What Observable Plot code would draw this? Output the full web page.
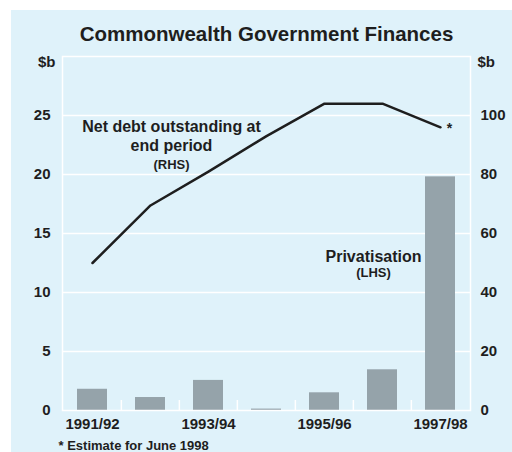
<!DOCTYPE html>
<html><head><meta charset="utf-8">
<script src="https://cdn.jsdelivr.net/npm/d3@7"></script>
<script src="https://cdn.jsdelivr.net/npm/@observablehq/plot@0.6"></script>
<style>
body{margin:0;background:#fff;}
#wrap{padding:10px 0 0 11px;width:501px;height:442px;}
#chart svg{display:block;background:#dff2fa;font-family:"Liberation Sans",Arial,sans-serif;}
</style></head>
<body><div id="wrap"><div id="chart"></div></div>
<script>
const years = ["1991/92","1992/93","1993/94","1994/95","1995/96","1996/97","1997/98"];
const privatisation = [1.8, 1.1, 2.55, 0.12, 1.5, 3.45, 19.8];   // $b, LHS
const netDebt = [50, 69.5, 81, 93, 104, 104, 96];             // $b, RHS
const xTickLabels = ["1991/92","1993/94","1995/96","1997/98"];
const leftTicks = [0,5,10,15,20,25];
const rightFactor = 4; // RHS 0-120 vs LHS 0-30

const bars = years.map((y,i)=>({year:y, value:privatisation[i]}));
const debt = years.map((y,i)=>({year:y, value:netDebt[i]/rightFactor}));

const W=501, H=442, mL=51, mR=42, mT=46, mB=42;
const bw = (W-mL-mR)/years.length;
const ink = "#1e1e1e";
const font = {fontWeight:"bold", fill:ink, lineAnchor:"middle"};

const chart = Plot.plot({
  width:W, height:H, marginLeft:mL, marginRight:mR, marginTop:mT, marginBottom:mB,
  style:{background:"#dff2fa", fontFamily:"Liberation Sans, Arial, sans-serif"},
  x:{type:"band", domain:years, paddingInner:0.48, paddingOuter:0.24, axis:null},
  y:{domain:[0,30], axis:null},
  marks:[
    Plot.ruleY(leftTicks.slice(1), {stroke:"white", strokeWidth:1.5}),
    Plot.barY(bars, {x:"year", y:"value", fill:"#95a3aa"}),
    Plot.ruleX(years.slice(1), {x:d=>d, dx:-bw/2, y1:0, y2:0.85, stroke:"white", strokeWidth:1.5}),
    Plot.frame({stroke:"white", strokeWidth:1.5}),
    Plot.line(debt, {x:"year", y:"value", stroke:ink, strokeWidth:2.5}),
    Plot.axisX({ticks:xTickLabels, tickSize:0, tickPadding:8, fontSize:15, fontWeight:"bold", color:ink, label:null}),
    Plot.axisY({anchor:"left", ticks:leftTicks, tickSize:0, tickPadding:12, fontSize:15, fontWeight:"bold", color:ink, label:null}),
    Plot.axisY({anchor:"right", ticks:leftTicks, tickFormat:d=>d*rightFactor, tickSize:0, tickPadding:10, fontSize:15, fontWeight:"bold", color:ink, label:null}),
    Plot.text(["Commonwealth Government Finances"], {frameAnchor:"top", dy:-22.5, fontSize:20.5, ...font}),
    Plot.text(["$b"], {frameAnchor:"top-left", dx:-7, dy:6, textAnchor:"end", fontSize:15, ...font}),
    Plot.text(["$b"], {frameAnchor:"top-right", dx:7, dy:6, textAnchor:"start", fontSize:15, ...font}),
    Plot.text(["Net debt outstanding at"], {x:()=>"1992/93", y:()=>24.0, dx:21, fontSize:16, ...font}),
    Plot.text(["end period"], {x:()=>"1992/93", y:()=>22.4, dx:21, fontSize:16, ...font}),
    Plot.text(["(RHS)"], {x:()=>"1992/93", y:()=>20.85, dx:21, fontSize:13, ...font}),
    Plot.text(["Privatisation"], {x:()=>"1996/97", y:()=>13.0, dx:-9, fontSize:16, ...font}),
    Plot.text(["(LHS)"], {x:()=>"1996/97", y:()=>11.7, dx:-9, fontSize:13, ...font}),
    Plot.text(["*"], {x:()=>"1997/98", y:()=>netDebt[6]/rightFactor, dx:9, dy:1, fontSize:14, ...font}),
    Plot.text(["* Estimate for June 1998"], {frameAnchor:"bottom-left", dx:-4, dy:35, textAnchor:"start", fontSize:13, ...font})
  ]
});
document.getElementById("chart").appendChild(chart);
</script></body></html>
